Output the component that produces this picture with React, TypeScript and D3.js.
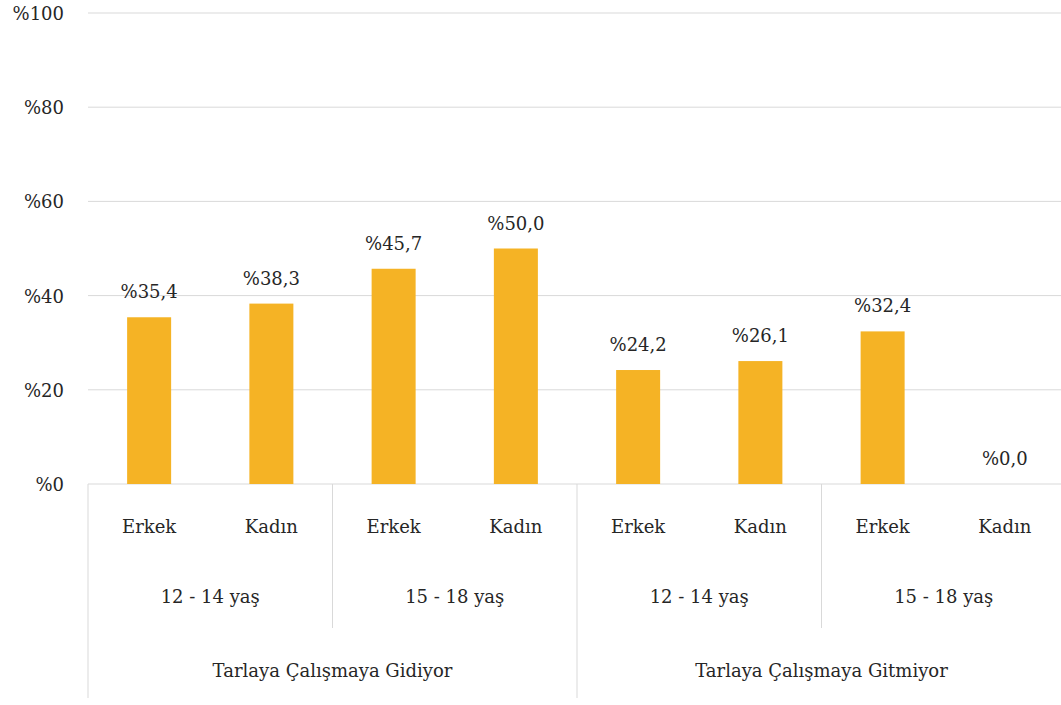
import React, { useRef, useEffect } from "react";
import * as d3 from "d3";

const genders = ["Erkek", "Kadın", "Erkek", "Kadın", "Erkek", "Kadın", "Erkek", "Kadın"];
const ageGroups = ["12 - 14 yaş", "15 - 18 yaş", "12 - 14 yaş", "15 - 18 yaş"];
const statusGroups = ["Tarlaya Çalışmaya Gidiyor", "Tarlaya Çalışmaya Gitmiyor"];
const values = [35.4, 38.3, 45.7, 50.0, 24.2, 26.1, 32.4, 0.0];
const yTicks = [0, 20, 40, 60, 80, 100];

const W = 1061;
const H = 705;
const left = 88;
const right = 1066;
const top = 13;
const bottom = 484;
const font = "'DejaVu Serif', 'Times New Roman', Times, serif";

function App() {
  const svgRef = useRef<SVGSVGElement>(null);

  useEffect(() => {
    const svg = d3.select(svgRef.current);
    svg.selectAll("*").remove();

    const x = d3.scaleBand<number>().domain(d3.range(values.length)).range([left, right]);
    const y = d3.scaleLinear().domain([0, 100]).range([bottom, top]);
    const bw = x.bandwidth() * 0.36;

    const txt = (sel: any) =>
      sel.style("font-family", font).style("font-size", "18px").attr("fill", "#262626");

    // gridlines
    svg.append("g")
      .selectAll("line")
      .data(yTicks)
      .join("line")
      .attr("x1", left)
      .attr("x2", W)
      .attr("y1", (d) => y(d))
      .attr("y2", (d) => y(d))
      .attr("stroke", "#d9d9d9")
      .attr("stroke-width", 1);

    svg.append("g")
      .selectAll("text")
      .data(yTicks)
      .join("text")
      .attr("x", 64)
      .attr("y", (d) => y(d) + 7)
      .attr("text-anchor", "end")
      .call(txt)
      .text((d) => "%" + d);

    // bars
    svg.append("g")
      .selectAll("rect")
      .data(values)
      .join("rect")
      .attr("x", (_, i) => x(i)! + x.bandwidth() / 2 - bw / 2)
      .attr("y", (d) => y(d))
      .attr("width", bw)
      .attr("height", (d) => bottom - y(d))
      .attr("fill", "#f5b325");

    svg.append("g")
      .selectAll("text")
      .data(values)
      .join("text")
      .attr("x", (_, i) => x(i)! + x.bandwidth() / 2)
      .attr("y", (d) => y(d) - 19)
      .attr("text-anchor", "middle")
      .call(txt)
      .text((d) => "%" + d.toFixed(1).replace(".", ","));

    // category axis
    const ax = svg.append("g");
    ax.selectAll("text.g")
      .data(genders)
      .join("text")
      .attr("class", "g")
      .attr("x", (_, i) => x(i)! + x.bandwidth() / 2)
      .attr("y", 533)
      .attr("text-anchor", "middle")
      .call(txt)
      .text((d) => d);

    const aw = (right - left) / ageGroups.length;
    ax.selectAll("text.a")
      .data(ageGroups)
      .join("text")
      .attr("class", "a")
      .attr("x", (_, i) => left + aw * i + aw / 2)
      .attr("y", 603)
      .attr("text-anchor", "middle")
      .call(txt)
      .text((d) => d);

    const sw = (right - left) / statusGroups.length;
    ax.selectAll("text.s")
      .data(statusGroups)
      .join("text")
      .attr("class", "s")
      .attr("x", (_, i) => left + sw * i + sw / 2)
      .attr("y", 677)
      .attr("text-anchor", "middle")
      .call(txt)
      .text((d) => d);

    // separators
    ax.selectAll("line.age")
      .data(d3.range(ageGroups.length).filter((i) => i % 2 === 1))
      .join("line")
      .attr("class", "age")
      .attr("x1", (i) => left + aw * i)
      .attr("x2", (i) => left + aw * i)
      .attr("y1", bottom)
      .attr("y2", 628)
      .attr("stroke", "#d9d9d9");

    ax.selectAll("line.st")
      .data(d3.range(statusGroups.length + 1))
      .join("line")
      .attr("class", "st")
      .attr("x1", (i) => left + sw * i)
      .attr("x2", (i) => left + sw * i)
      .attr("y1", bottom)
      .attr("y2", 698)
      .attr("stroke", "#d9d9d9");
  }, []);

  return (
    <svg
      ref={svgRef}
      width={W}
      height={H}
      style={{ position: "absolute", left: 0, top: 0, background: "#fff" }}
    />
  );
}

export default App;
